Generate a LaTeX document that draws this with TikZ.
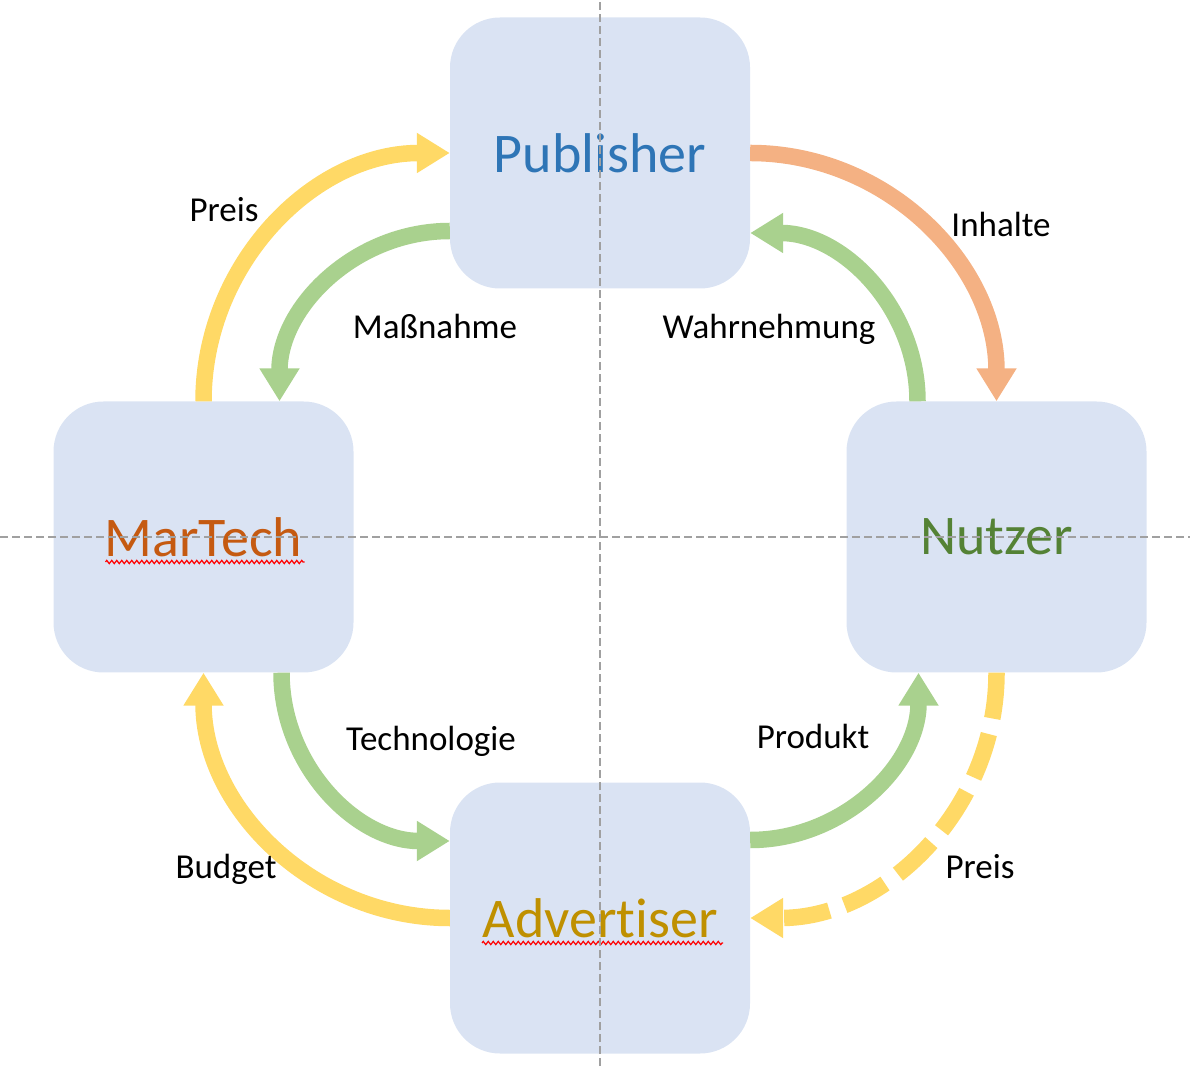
\documentclass[tikz,border=0pt]{standalone}
\usepackage{fontspec}
\setmainfont{Carlito}[Ligatures=NoCommon]
\usetikzlibrary{arrows.meta,decorations.pathmorphing}

\definecolor{cardfill}{HTML}{DAE3F3}
\definecolor{pubblue}{HTML}{2E75B6}
\definecolor{techorange}{HTML}{C55A11}
\definecolor{usergreen}{HTML}{548235}
\definecolor{advgold}{HTML}{BF9000}
\definecolor{flowyellow}{HTML}{FFD966}
\definecolor{flowgreen}{HTML}{A9D18E}
\definecolor{floworange}{HTML}{F4B183}
\definecolor{guidegray}{HTML}{A0A0A0}

\tikzset{
    card/.style={fill=cardfill, rounded corners=50pt, minimum width=300pt, minimum height=271pt, inner sep=0pt,
        font=\fontsize{56pt}{60pt}\selectfont},
    flow/.style={line width=16.5pt, -{Triangle[width=38pt,length=33pt]}},
    lbl/.style={anchor=base, inner sep=0pt, font=\fontsize{35pt}{40pt}\selectfont},
    squiggle/.style={red, line width=1.2pt, decorate, decoration={zigzag, segment length=5pt, amplitude=1.6pt}},
    guide/.style={guidegray, line width=1.8pt, dash pattern=on 8pt off 4pt},
}

\begin{document}
\begin{tikzpicture}[x=1pt, y=1pt]
    \useasboundingbox (0,0) rectangle (1190,1066);

    \node[card, text=pubblue](pub) at (600,913){Publisher};
    \node[card, text=techorange](mar) at (203.5,529){MarTech};
    \node[card, text=usergreen](nut) at (996.5,529){Nutzer};
    \node[card, text=advgold](adv) at (600,148){Advertiser};

    \draw[squiggle]([xshift=-98pt,yshift=-25pt]mar.center)--([xshift=101pt,yshift=-25pt]mar.center);
    \draw[squiggle]([xshift=-118pt,yshift=-25pt]adv.center)--([xshift=123pt,yshift=-25pt]adv.center);

    \draw[flow, flowyellow](mar.north) to[out=90,in=180] (pub.west);
    \draw[flow, flowgreen]([yshift=-78pt]pub.west) to[out=180,in=90] ([xshift=76pt]mar.north);
    \draw[flow, floworange](pub.east) to[out=0,in=90] (nut.north);
    \draw[flow, flowgreen]([xshift=-79pt]nut.north) to[out=90,in=0] ([yshift=-80pt]pub.east);
    \draw[flow, flowgreen]([xshift=78pt]mar.south) to[out=-90,in=180] ([yshift=77pt]adv.west);
    \draw[flow, flowyellow](adv.west) to[out=180,in=-90] (mar.south);
    \draw[flow, flowgreen]([yshift=78pt]adv.east) to[out=0,in=-90] ([xshift=-78pt]nut.south);
    \draw[flow, flowyellow, dash pattern=on 46pt off 16pt](nut.south) to[out=-90,in=0] (adv.east);

    \node[lbl](preistop) at (224,844){Preis};
    \node[lbl](massnahme) at (435,727){Maßnahme};
    \node[lbl](inhalte) at (1001,829){Inhalte};
    \node[lbl](wahrnehmung) at (769,727){Wahrnehmung};
    \node[lbl](technologie) at (431,316){Technologie};
    \node[lbl](produkt) at (813,318){Produkt};
    \node[lbl](budget) at (226,188){Budget};
    \node[lbl](preisbottom) at (980,188){Preis};

    \draw[guide](600,0)--(600,1066);
    \draw[guide](0,529)--(1190,529);
\end{tikzpicture}
\end{document}
